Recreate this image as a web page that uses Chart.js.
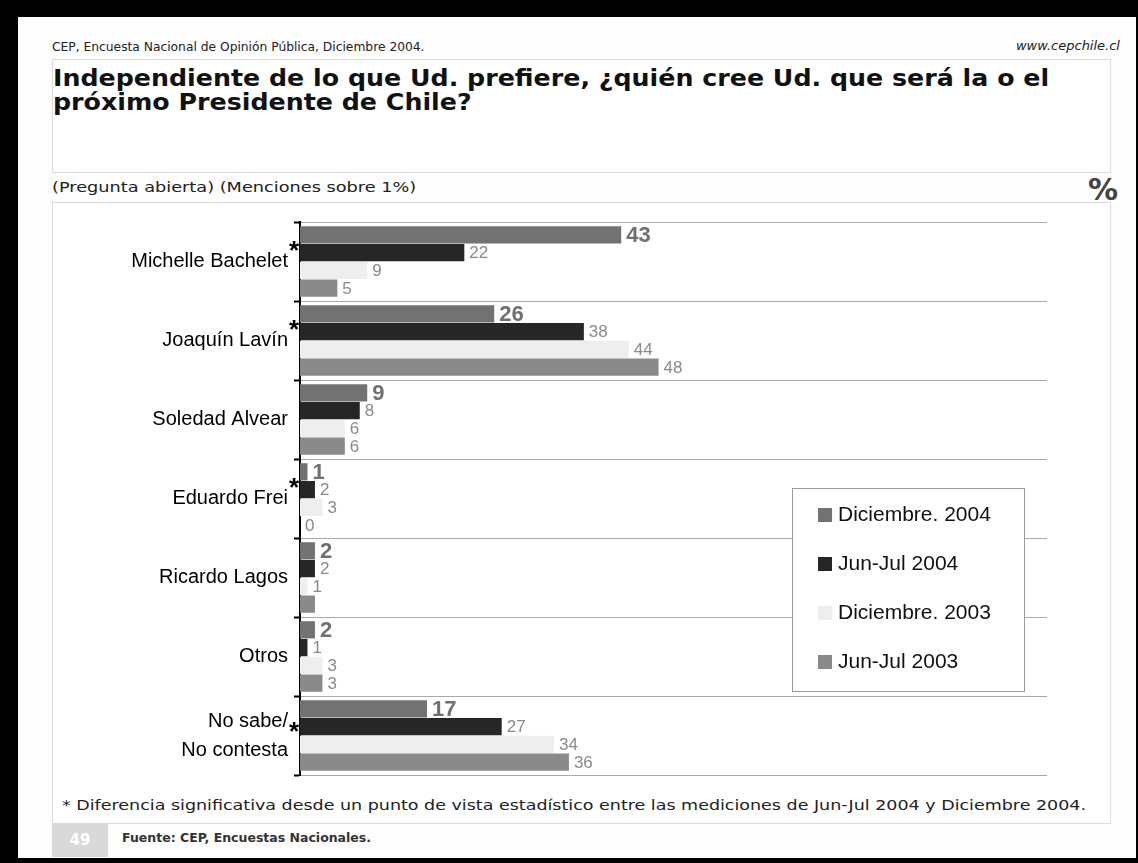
<!DOCTYPE html>
<html>
<head>
<meta charset="utf-8">
<script src="https://cdn.jsdelivr.net/npm/chart.js@4"></script>
<style>
    html, body { margin: 0; padding: 0; }
    body { width: 1138px; height: 863px; background: #000; position: relative; overflow: hidden; font-family: 'DejaVu Sans', sans-serif; }
    .page { position: absolute; left: 18px; top: 17px; width: 1118px; height: 841px; background: #fdfdfd; }
    .abs { position: absolute; white-space: nowrap; transform-origin: left top; }
    .src { left: 52px; top: 39px; font-size: 13px; color: #222; transform: scaleX(0.944); }
    .web { right: 18px; top: 38px; font-size: 13px; font-style: italic; color: #222; }
    .titlebox { left: 52px; top: 59px; width: 1057px; height: 112px; border: 1px solid #dcdcdc; background: #fff; }
    .title { left: 53px; top: 66px; font-size: 23px; font-weight: bold; color: #111; line-height: 24px; transform: scaleX(1.1); }
    .note { left: 52px; top: 179px; font-size: 14px; color: #222; transform: scaleX(1.265); }
    .pct { left: 1088px; top: 172px; font-size: 30px; font-weight: bold; color: #444; }
    .panel { left: 52px; top: 202px; width: 1057px; height: 620px; border: 1px solid #dcdcdc; background: #fff; }
    .chartwrap { position: absolute; left: 52px; top: 205px; width: 1059px; height: 585px; }
    .foot { left: 62px; top: 797px; font-size: 14px; color: #222; transform: scaleX(1.249); }
    .pagenum { left: 52px; top: 823px; width: 56px; height: 34px; background: #d9d9d9; color: #fff; font-weight: bold; font-size: 15px; line-height: 34px; text-align: center; }
    .fuente { left: 122px; top: 830px; font-size: 12.5px; font-weight: bold; color: #333; }
</style>
</head>
<body>
<div class="page"></div>
<div class="abs src">CEP, Encuesta Nacional de Opinión Pública, Diciembre 2004.</div>
<div class="abs web">www.cepchile.cl</div>
<div class="abs titlebox"></div>
<div class="abs title">Independiente de lo que Ud. prefiere, ¿quién cree Ud. que será la o el<br>próximo Presidente de Chile?</div>
<div class="abs note">(Pregunta abierta) (Menciones sobre 1%)</div>
<div class="abs pct">%</div>
<div class="abs panel"></div>
<div class="chartwrap"><canvas id="chart"></canvas></div>
<div class="abs foot">* Diferencia significativa desde un punto de vista estadístico entre las mediciones de Jun-Jul 2004 y Diciembre 2004.</div>
<div class="abs pagenum">49</div>
<div class="abs fuente">Fuente: CEP, Encuestas Nacionales.</div>

<script>
// candidates (top to bottom)
const categories = ['Michelle Bachelet', 'Joaquín Lavín', 'Soledad Alvear', 'Eduardo Frei', 'Ricardo Lagos', 'Otros', ['No sabe/', 'No contesta']];
// * = significant difference Jun-Jul 2004 vs Dic 2004
const significant = [true, true, false, true, false, false, true];

const seriesNames = ['Diciembre. 2004', 'Jun-Jul 2004', 'Diciembre. 2003', 'Jun-Jul 2003'];
const dic2004 = [43, 26, 9, 1, 2, 2, 17];
const junJul2004 = [22, 38, 8, 2, 2, 1, 27];
const dic2003 = [9, 44, 6, 3, 1, 3, 34];
const junJul2003 = [5, 48, 6, 0, 2, 3, 36];

const seriesColors = ['#727272', '#262626', '#eeeeee', '#8a8a8a'];
const axisMin = 0;
const axisMax = 100;

// value labels next to each bar
const valueLabels = {
    id: 'valueLabels',
    afterDatasetsDraw(chart) {
        const ctx = chart.ctx;
        ctx.save();
        ctx.textAlign = 'left';
        ctx.textBaseline = 'middle';
        chart.data.datasets.forEach((ds, di) => {
            const meta = chart.getDatasetMeta(di);
            meta.data.forEach((bar, i) => {
                // this one is hidden under the bar in the original
                if (di === 3 && i === 4) return;
                if (di === 0) {
                    ctx.font = 'bold 22px "Liberation Sans", Arial, sans-serif';
                    ctx.fillStyle = '#707070';
                } else {
                    ctx.font = '17px "Liberation Sans", Arial, sans-serif';
                    ctx.fillStyle = '#8a8a8a';
                }
                ctx.fillText(ds.data[i], bar.x + 5, bar.y + 1);
            });
        });
        ctx.restore();
    }
};

// asterisks beside the category labels
const starMarks = {
    id: 'starMarks',
    afterDraw(chart) {
        const ctx = chart.ctx;
        const y = chart.scales.y;
        ctx.save();
        ctx.font = 'bold 26px "Liberation Sans", Arial, sans-serif';
        ctx.fillStyle = '#000';
        ctx.textAlign = 'center';
        ctx.textBaseline = 'middle';
        significant.forEach((s, i) => {
            if (!s) return;
            const off = i === categories.length - 1 ? -3 : -10;
            ctx.fillText('*', chart.chartArea.left - 6, y.getPixelForValue(i) + off);
        });
        ctx.restore();
    }
};

// boxed legend inside the plot
const boxLegend = {
    id: 'boxLegend',
    afterDraw(chart) {
        const ctx = chart.ctx;
        const area = chart.chartArea;
        const left = area.right - 255, top = area.top + 266, w = 232, h = 203;
        ctx.save();
        ctx.fillStyle = '#fff';
        ctx.fillRect(left, top, w, h);
        ctx.strokeStyle = '#9a9a9a';
        ctx.lineWidth = 1;
        ctx.strokeRect(left + 0.5, top + 0.5, w, h);
        ctx.font = '21px "Liberation Sans", Arial, sans-serif';
        ctx.textBaseline = 'middle';
        chart.data.datasets.forEach((ds, i) => {
            const cy = top + 27 + i * 49;
            ctx.fillStyle = ds.backgroundColor;
            ctx.fillRect(left + 26, cy - 7, 14, 14);
            ctx.fillStyle = '#111';
            ctx.fillText(ds.label, left + 46, cy);
        });
        ctx.restore();
    }
};

const allSeries = [dic2004, junJul2004, dic2003, junJul2003];

new Chart(document.getElementById('chart'), {
    type: 'bar',
    data: {
        labels: categories,
        datasets: allSeries.map((vals, i) => ({
            label: seriesNames[i],
            data: vals,
            backgroundColor: seriesColors[i],
            borderWidth: 0,
            categoryPercentage: 0.9,
            barPercentage: 0.97
        }))
    },
    options: {
        indexAxis: 'y',
        responsive: true,
        maintainAspectRatio: false,
        animation: false,
        layout: {
            padding: { top: 17, right: 64, bottom: 15, left: 0 }
        },
        plugins: {
            legend: { display: false },
            tooltip: { enabled: false }
        },
        scales: {
            x: {
                min: axisMin,
                max: axisMax,
                display: false
            },
            y: {
                grid: {
                    offset: true,
                    color: '#a9a9a9',
                    lineWidth: 1,
                    tickColor: '#000',
                    tickWidth: 2,
                    tickLength: 6
                },
                border: {
                    display: true,
                    color: '#000',
                    width: 2
                },
                ticks: {
                    color: '#000',
                    padding: 6,
                    font: {
                        family: "'Liberation Sans', Arial, sans-serif",
                        size: 20,
                        lineHeight: 1.45
                    }
                },
                afterFit: function (scale) {
                    scale.width = 248;
                    // keep the plot box where the layout padding puts it
                    scale.paddingTop = 0;
                    scale.paddingBottom = 0;
                }
            }
        }
    },
    plugins: [valueLabels, starMarks, boxLegend]
});
</script>
</body>
</html>
